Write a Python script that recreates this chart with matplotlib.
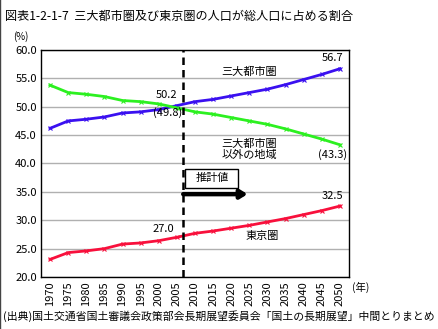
import matplotlib
matplotlib.use('Agg')
import matplotlib.pyplot as plt
from matplotlib.lines import Line2D
from matplotlib.patches import Rectangle

plt.rcParams['font.family'] = ['Noto Sans CJK JP', 'DejaVu Sans']

years = [1970, 1975, 1980, 1985, 1990, 1995, 2000, 2005, 2010,
         2015, 2020, 2025, 2030, 2035, 2040, 2045, 2050]
sandai = [46.2, 47.5, 47.8, 48.2, 48.9, 49.1, 49.5, 50.2, 50.9,
          51.3, 51.9, 52.5, 53.1, 53.9, 54.8, 55.7, 56.7]
igai = [53.8, 52.5, 52.2, 51.8, 51.1, 50.9, 50.5, 49.8, 49.1,
        48.7, 48.1, 47.5, 46.9, 46.1, 45.2, 44.3, 43.3]
tokyo = [23.1, 24.3, 24.6, 25.0, 25.8, 26.0, 26.4, 27.0, 27.7,
         28.1, 28.6, 29.1, 29.7, 30.3, 31.0, 31.7, 32.5]
yticks = [20.0, 25.0, 30.0, 35.0, 40.0, 45.0, 50.0, 55.0, 60.0]

fig = plt.figure(figsize=(4.39, 3.29), dpi=100)
ax = fig.add_axes([41 / 439, 1 - 277 / 329, 308 / 439, 227 / 329])

x = list(range(len(years)))
ax.plot(x, sandai, color='#3a10f0', lw=2, marker='x', ms=3, mew=0.8, zorder=3)
ax.plot(x, igai, color='#2cf020', lw=2, marker='x', ms=3, mew=0.8, zorder=3)
ax.plot(x, tokyo, color='#f8103c', lw=2, marker='x', ms=3, mew=0.8, zorder=3)

ax.set_xlim(-0.5, len(years) - 0.5)
ax.set_ylim(20, 60)
ax.set_yticks(yticks)
ax.set_yticklabels([f'{v:.1f}' for v in yticks], fontsize=8)
ax.set_xticks(x)
ax.set_xticklabels([str(y) for y in years], rotation=90, fontsize=8)
ax.tick_params(length=0, pad=3)
ax.grid(axis='y', color='#b0b0b0', lw=1)
ax.set_axisbelow(True)
for s in ax.spines.values():
    s.set_color('black')
    s.set_linewidth(1)

# estimate boundary
ax.axvline(7.35, color='black', lw=1.8, ls=(0, (3, 2)), zorder=4)
ax.add_patch(Rectangle((7.45, 35.75), 2.95, 3.3, fc='white', ec='black', lw=1, zorder=5))
ax.text(8.95, 37.4, '推計値', fontsize=8, ha='center', va='center', zorder=6)
ax.annotate('', xy=(10.9, 34.6), xytext=(7.35, 34.6),
            arrowprops=dict(arrowstyle='-|>,head_length=0.4,head_width=0.25',
                            color='black', lw=3.2, shrinkA=0, shrinkB=0))

ax.text(11.0, 56.1, '三大都市圏', fontsize=8, ha='center', va='center')
ax.text(15.6, 58.6, '56.7', fontsize=8, ha='center', va='center')
ax.text(6.45, 52.1, '50.2', fontsize=8, ha='center', va='center')
ax.text(6.5, 48.9, '(49.8)', fontsize=8, ha='center', va='center')
ax.text(11.0, 42.45, '三大都市圏\n以外の地域', fontsize=8, ha='center', va='center',
        linespacing=1.15)
ax.text(15.6, 41.5, '(43.3)', fontsize=8, ha='center', va='center')
ax.text(6.25, 28.5, '27.0', fontsize=8, ha='center', va='center')
ax.text(15.6, 34.3, '32.5', fontsize=8, ha='center', va='center')
ax.text(11.7, 27.2, '東京圏', fontsize=8, ha='center', va='center')

fig.text(5 / 439, 1 - 16 / 329, '図表1-2-1-7  三大都市圏及び東京圏の人口が総人口に占める割合',
         fontsize=8.7, ha='left', va='center')
fig.text(13 / 439, 1 - 37 / 329, '(%)', fontsize=7, ha='left', va='center')
fig.text(352 / 439, 1 - 287 / 329, '(年)', fontsize=7.5, ha='left', va='center')
fig.text(3 / 439, 1 - 316 / 329,
         '(出典)国土交通省国土審議会政策部会長期展望委員会「国土の長期展望」中間とりまとめ',
         fontsize=7.8, ha='left', va='center')
fig.add_artist(Line2D([0.5 / 439, 0.5 / 439], [0, 1], color='#444444', lw=1))

fig.savefig('out.png', dpi=100)
